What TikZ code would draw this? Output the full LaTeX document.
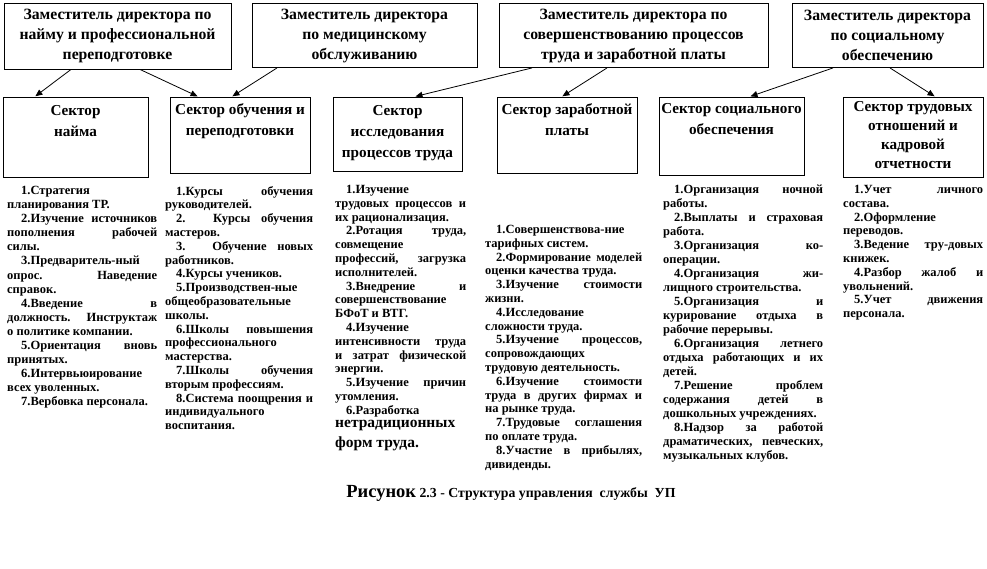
\documentclass[tikz,border=0pt]{standalone}
\usepackage{fontspec}
\setmainfont{Liberation Serif}
\usetikzlibrary{arrows.meta}
\hyphenpenalty=10000
\exhyphenpenalty=10000
\tolerance=10000
\hbadness=10000
\hfuzz=20pt
\begin{document}
\begin{tikzpicture}[x=1pt,y=-1pt,
  topbox/.style={draw, line width=0.9pt, inner sep=0pt, align=center,
    font=\fontsize{15.7}{20}\selectfont\bfseries},
  secbox/.style={draw, line width=0.9pt, inner sep=0pt},
  sectitle/.style={anchor=north, inner sep=0pt, align=center,
    font=\fontsize{15.2}{21}\selectfont\bfseries},
  coltext/.style={anchor=north west, inner sep=0pt, align=justify,
    font=\fontsize{12.5}{14}\selectfont\bfseries,
    execute at begin node={\setlength\parindent{11pt}}},
  arr/.style={-{Triangle[length=7pt,width=6pt]}, line width=0.8pt, shorten >=0.5pt}
]
\useasboundingbox (0,0) rectangle (987,569);

% top boxes
\node[topbox, minimum width=227, minimum height=66] (t1) at (117.5,36)
  {Заместитель директора по\\найму и профессиональной\\переподготовке};
\node[topbox, minimum width=225, minimum height=64] (t2) at (364.5,35.5)
  {Заместитель директора\\по медицинскому\\обслуживанию};
\node[topbox, minimum width=269, minimum height=64] (t3) at (633.5,35.5)
  {Заместитель директора по\\совершенствованию процессов\\труда и заработной платы};
\node[topbox, minimum width=191, minimum height=64] (t4) at (887.5,35.5)
  {Заместитель директора\\по социальному\\обеспечению};

% sector boxes
\node[secbox, minimum width=145, minimum height=80] (s1) at (75.5,137) {};
\node[secbox, minimum width=140, minimum height=76] (s2) at (240,135) {};
\node[secbox, minimum width=129, minimum height=74] (s3) at (397.5,134) {};
\node[secbox, minimum width=140, minimum height=76] (s4) at (567,135) {};
\node[secbox, minimum width=145, minimum height=78] (s5) at (731.5,136) {};
\node[secbox, minimum width=140, minimum height=80] (s6) at (913,137) {};

\node[sectitle] (s1t) at ([yshift=-9]s1.north) {Сектор\\найма};
\node[sectitle] (s2t) at ([yshift=-7]s2.north) {Сектор обучения и\\переподготовки};
\node[sectitle] (s3t) at ([yshift=-9]s3.north) {Сектор\\исследования\\процессов труда};
\node[sectitle] (s4t) at ([yshift=-7]s4.north) {Сектор заработной\\платы};
\node[sectitle] (s5t) at ([yshift=-7]s5.north) {Сектор социального\\обеспечения};
\node[sectitle, font=\fontsize{15.2}{19}\selectfont\bfseries] (s6t) at ([yshift=-5]s6.north)
  {Сектор трудовых\\отношений и\\кадровой\\отчетности};

% arrows
\draw[arr] ([xshift=-46.5]t1.south) -- ([xshift=-40.5]s1.north);
\draw[arr] ([xshift=22.5]t1.south) -- ([xshift=-42]s2.north);
\draw[arr] ([xshift=-87.5]t2.south) -- ([xshift=-8]s2.north);
\draw[arr] ([xshift=-101.5]t3.south) -- ([xshift=17.5]s3.north);
\draw[arr] ([xshift=-26.5]t3.south) -- ([xshift=-5]s4.north);
\draw[arr] ([xshift=-54.5]t4.south) -- ([xshift=18.5]s5.north);
\draw[arr] ([xshift=2.5]t4.south) -- ([xshift=22]s6.north);

% column texts
\node[coltext, text width=150, font=\fontsize{12.5}{14.1}\selectfont\bfseries] (c1) at (7,186) {%
\hspace*{14pt}1.Стратегия\linebreak планирования ТР.\par
\hspace*{3pt}2.Изучение источников\linebreak пополнения рабочей\linebreak силы.\par
\hspace*{3pt}3.Предваритель-ный\linebreak опрос. Наведение\linebreak справок.\par
\hspace*{3pt}4.Введение в\linebreak должность. Инструктаж\linebreak о политике компании.\par
\hspace*{3pt}5.Ориентация вновь\linebreak принятых.\par
\hspace*{3pt}6.Интервьюирование\linebreak всех уволенных.\par
\hspace*{3pt}7.Вербовка персонала.\par};

\node[coltext, text width=148, font=\fontsize{12.5}{13.8}\selectfont\bfseries] (c2) at (165,186) {%
\hspace*{11pt}1.Курсы обучения\linebreak руководителей.\par
2. Курсы обучения\linebreak мастеров.\par
3. Обучение новых\linebreak работников.\par
4.Курсы учеников.\par
5.Производствен-ные\linebreak общеобразовательные\linebreak школы.\par
6.Школы повышения\linebreak профессионального\linebreak мастерства.\par
7.Школы обучения\linebreak вторым профессиям.\par
8.Система поощрения и\linebreak индивидуального\linebreak воспитания.\par};

\node[coltext, text width=131, font=\fontsize{12.5}{13.8}\selectfont\bfseries] (c3) at (335,185) {%
\hspace*{11pt}1.Изучение\linebreak трудовых процессов и\linebreak их рационализация.\par
2.Ротация труда,\linebreak совмещение\linebreak профессий, загрузка\linebreak исполнителей.\par
3.Внедрение и\linebreak совершенствование\linebreak БФоТ и ВТГ.\par
4.Изучение\linebreak интенсивности труда\linebreak и затрат физической\linebreak энергии.\par
5.Изучение причин\linebreak утомления.\par
6.Разработка\par\vspace{-6.5pt}
{\fontsize{15.5}{20}\selectfont\noindent нетрадиционных\linebreak форм труда.\par}};

\node[coltext, text width=157, font=\fontsize{12.5}{13.8}\selectfont\bfseries] (c4) at (485,225) {%
\hspace*{11pt}1.Совершенствова-ние\linebreak тарифных систем.\par
2.Формирование моделей\linebreak оценки качества труда.\par
3.Изучение стоимости\linebreak жизни.\par
4.Исследование\linebreak сложности труда.\par
5.Изучение процессов,\linebreak сопровождающих\linebreak трудовую деятельность.\par
6.Изучение стоимости\linebreak труда в других фирмах и\linebreak на рынке труда.\par
7.Трудовые соглашения\linebreak по оплате труда.\par
8.Участие в прибылях,\linebreak дивиденды.\par};

\node[coltext, text width=160] (c5) at (663,185) {%
\hspace*{11pt}1.Организация ночной\linebreak работы.\par
2.Выплаты и страховая\linebreak работа.\par
3.Организация ко-\linebreak операции.\par
4.Организация жи-\linebreak лищного строительства.\par
5.Организация и\linebreak курирование отдыха в\linebreak рабочие перерывы.\par
6.Организация летнего\linebreak отдыха работающих и их\linebreak детей.\par
7.Решение проблем\linebreak содержания детей в\linebreak дошкольных учреждениях.\par
8.Надзор за работой\linebreak драматических, певческих,\linebreak музыкальных клубов.\par};

\node[coltext, text width=140, font=\fontsize{12.5}{13.8}\selectfont\bfseries] (c6) at (843,185) {%
\hspace*{11pt}1.Учет личного\linebreak состава.\par
2.Оформление\linebreak переводов.\par
3.Ведение тру-довых\linebreak книжек.\par
4.Разбор жалоб и\linebreak увольнений.\par
5.Учет движения\linebreak персонала.\par};

% caption
\node[inner sep=0pt, font=\fontsize{13.8}{15}\selectfont\bfseries] (cap) at (511,493)
  {{\fontsize{18.5}{20}\selectfont Рисунок} 2.3 - Структура управления\ \ службы\ \ УП};
\end{tikzpicture}
\end{document}
